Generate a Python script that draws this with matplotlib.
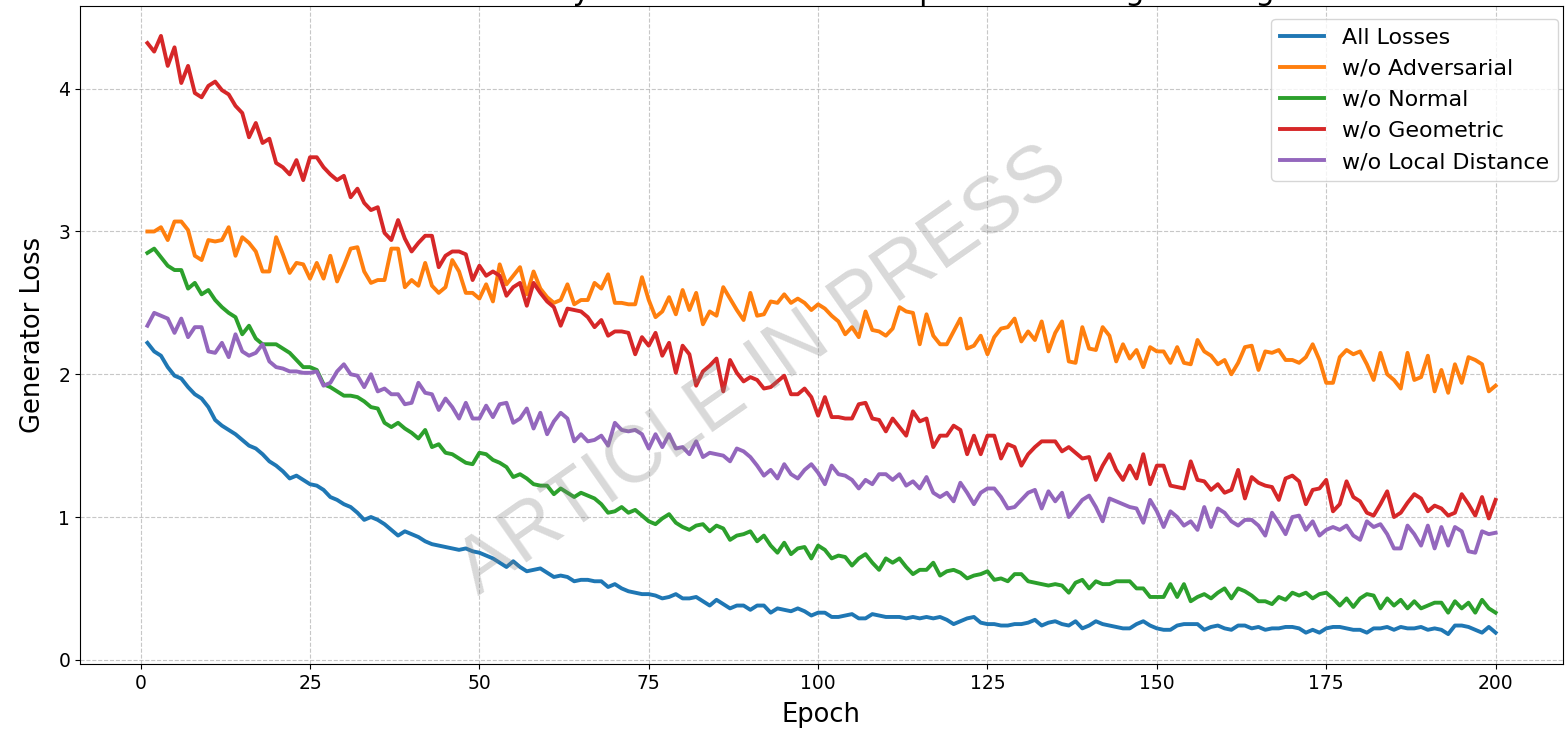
import matplotlib
matplotlib.use("Agg")
import matplotlib.pyplot as plt
import numpy as np

title_text = "Ablation Study: Generator Loss Comparison During Training"
series_labels = ["All Losses", "w/o Adversarial", "w/o Normal", "w/o Geometric", "w/o Local Distance"]
series_colors = ["#1f77b4", "#ff7f0e", "#2ca02c", "#d62728", "#9467bd"]

all_losses = [
    2.22, 2.16, 2.13, 2.05, 1.99, 1.97, 1.91, 1.86, 1.83, 1.77, 1.68, 1.64, 1.61, 1.58, 1.54, 1.50, 1.48, 1.44, 1.39, 1.36, 1.32, 1.27, 1.29, 1.26, 1.23,
    1.22, 1.19, 1.14, 1.12, 1.09, 1.07, 1.03, 0.98, 1.00, 0.98, 0.95, 0.91, 0.87, 0.90, 0.88, 0.86, 0.83, 0.81, 0.80, 0.79, 0.78, 0.77, 0.78, 0.76, 0.75,
    0.73, 0.71, 0.68, 0.65, 0.69, 0.65, 0.62, 0.63, 0.64, 0.61, 0.58, 0.59, 0.58, 0.55, 0.56, 0.56, 0.55, 0.55, 0.51, 0.53, 0.50, 0.48, 0.47, 0.46, 0.46,
    0.45, 0.43, 0.44, 0.46, 0.43, 0.43, 0.44, 0.41, 0.38, 0.42, 0.39, 0.36, 0.38, 0.38, 0.35, 0.38, 0.38, 0.33, 0.36, 0.35, 0.34, 0.36, 0.34, 0.31, 0.33,
    0.33, 0.30, 0.30, 0.31, 0.32, 0.29, 0.29, 0.32, 0.31, 0.30, 0.30, 0.30, 0.29, 0.30, 0.29, 0.30, 0.29, 0.30, 0.28, 0.25, 0.27, 0.29, 0.30, 0.26, 0.25,
    0.25, 0.24, 0.24, 0.25, 0.25, 0.26, 0.28, 0.24, 0.26, 0.27, 0.25, 0.24, 0.27, 0.22, 0.24, 0.27, 0.25, 0.24, 0.23, 0.22, 0.22, 0.25, 0.27, 0.24, 0.22,
    0.21, 0.21, 0.24, 0.25, 0.25, 0.25, 0.21, 0.23, 0.24, 0.22, 0.21, 0.24, 0.24, 0.22, 0.23, 0.21, 0.22, 0.22, 0.23, 0.23, 0.22, 0.19, 0.21, 0.19, 0.22,
    0.23, 0.23, 0.22, 0.21, 0.21, 0.19, 0.22, 0.22, 0.23, 0.21, 0.23, 0.22, 0.22, 0.23, 0.21, 0.22, 0.21, 0.18, 0.24, 0.24, 0.23, 0.21, 0.19, 0.23, 0.19,
]

wo_adversarial = [
    3.00, 3.00, 3.03, 2.94, 3.07, 3.07, 3.01, 2.83, 2.80, 2.94, 2.93, 2.94, 3.03, 2.83, 2.96, 2.92, 2.86, 2.72, 2.72, 2.96, 2.84, 2.71, 2.78, 2.77, 2.67,
    2.78, 2.67, 2.83, 2.65, 2.76, 2.88, 2.89, 2.72, 2.64, 2.66, 2.66, 2.88, 2.88, 2.61, 2.66, 2.62, 2.78, 2.62, 2.57, 2.61, 2.80, 2.72, 2.57, 2.57, 2.53,
    2.63, 2.51, 2.77, 2.63, 2.69, 2.75, 2.56, 2.72, 2.60, 2.54, 2.50, 2.52, 2.63, 2.49, 2.52, 2.52, 2.64, 2.60, 2.70, 2.50, 2.50, 2.49, 2.49, 2.68, 2.52,
    2.40, 2.44, 2.54, 2.42, 2.59, 2.45, 2.57, 2.35, 2.44, 2.41, 2.61, 2.53, 2.45, 2.38, 2.57, 2.41, 2.42, 2.51, 2.50, 2.56, 2.50, 2.53, 2.50, 2.45, 2.49,
    2.46, 2.41, 2.37, 2.28, 2.33, 2.26, 2.44, 2.31, 2.30, 2.27, 2.32, 2.47, 2.44, 2.43, 2.21, 2.42, 2.27, 2.21, 2.21, 2.30, 2.39, 2.18, 2.20, 2.27, 2.14,
    2.26, 2.32, 2.33, 2.39, 2.23, 2.30, 2.24, 2.37, 2.16, 2.29, 2.37, 2.09, 2.08, 2.33, 2.18, 2.17, 2.33, 2.27, 2.09, 2.21, 2.11, 2.17, 2.05, 2.19, 2.16,
    2.16, 2.08, 2.19, 2.08, 2.07, 2.24, 2.16, 2.13, 2.07, 2.10, 2.00, 2.08, 2.19, 2.20, 2.03, 2.16, 2.15, 2.17, 2.10, 2.10, 2.08, 2.12, 2.21, 2.10, 1.94,
    1.94, 2.12, 2.17, 2.14, 2.16, 2.07, 1.96, 2.15, 2.00, 1.96, 1.90, 2.15, 1.96, 1.98, 2.13, 1.88, 2.03, 1.87, 2.07, 1.94, 2.12, 2.10, 2.07, 1.88, 1.92,
]

wo_normal = [
    2.85, 2.88, 2.82, 2.76, 2.73, 2.73, 2.60, 2.64, 2.56, 2.59, 2.52, 2.47, 2.43, 2.40, 2.28, 2.34, 2.25, 2.21, 2.21, 2.21, 2.18, 2.15, 2.10, 2.05, 2.05,
    2.03, 1.93, 1.91, 1.88, 1.85, 1.85, 1.84, 1.81, 1.77, 1.76, 1.66, 1.63, 1.66, 1.62, 1.59, 1.55, 1.61, 1.49, 1.51, 1.45, 1.44, 1.41, 1.38, 1.37, 1.45,
    1.44, 1.40, 1.38, 1.35, 1.28, 1.30, 1.27, 1.23, 1.22, 1.22, 1.16, 1.20, 1.17, 1.14, 1.17, 1.15, 1.13, 1.09, 1.03, 1.04, 1.07, 1.03, 1.05, 1.01, 0.97,
    0.95, 0.99, 1.02, 0.96, 0.93, 0.91, 0.94, 0.95, 0.90, 0.94, 0.92, 0.84, 0.87, 0.88, 0.90, 0.83, 0.87, 0.80, 0.75, 0.82, 0.74, 0.78, 0.79, 0.71, 0.80,
    0.77, 0.71, 0.73, 0.72, 0.66, 0.71, 0.74, 0.68, 0.63, 0.71, 0.68, 0.71, 0.65, 0.60, 0.63, 0.63, 0.68, 0.59, 0.62, 0.63, 0.61, 0.57, 0.59, 0.60, 0.62,
    0.56, 0.57, 0.55, 0.60, 0.60, 0.55, 0.54, 0.53, 0.52, 0.53, 0.52, 0.47, 0.54, 0.56, 0.50, 0.55, 0.53, 0.53, 0.55, 0.55, 0.55, 0.50, 0.50, 0.44, 0.44,
    0.44, 0.53, 0.44, 0.53, 0.41, 0.44, 0.46, 0.43, 0.47, 0.50, 0.43, 0.50, 0.48, 0.45, 0.41, 0.41, 0.39, 0.44, 0.42, 0.47, 0.45, 0.47, 0.43, 0.46, 0.47,
    0.43, 0.38, 0.43, 0.37, 0.43, 0.46, 0.45, 0.36, 0.43, 0.38, 0.42, 0.36, 0.41, 0.36, 0.38, 0.40, 0.40, 0.33, 0.41, 0.36, 0.40, 0.33, 0.42, 0.36, 0.33,
]

wo_geometric = [
    4.32, 4.26, 4.37, 4.16, 4.29, 4.04, 4.16, 3.97, 3.94, 4.02, 4.05, 3.99, 3.96, 3.88, 3.83, 3.66, 3.76, 3.62, 3.65, 3.48, 3.45, 3.40, 3.50, 3.36, 3.52,
    3.52, 3.45, 3.40, 3.36, 3.39, 3.24, 3.30, 3.20, 3.15, 3.17, 2.99, 2.94, 3.08, 2.95, 2.86, 2.92, 2.97, 2.97, 2.75, 2.83, 2.86, 2.86, 2.84, 2.66, 2.76,
    2.69, 2.72, 2.69, 2.55, 2.61, 2.64, 2.48, 2.64, 2.57, 2.51, 2.47, 2.34, 2.46, 2.45, 2.44, 2.40, 2.33, 2.38, 2.27, 2.30, 2.30, 2.29, 2.14, 2.26, 2.20,
    2.29, 2.13, 2.22, 2.01, 2.20, 2.14, 1.92, 2.02, 2.06, 2.11, 1.88, 2.10, 2.01, 1.95, 1.98, 1.96, 1.90, 1.91, 1.95, 1.99, 1.86, 1.86, 1.90, 1.84, 1.71,
    1.84, 1.70, 1.70, 1.69, 1.69, 1.79, 1.80, 1.69, 1.68, 1.60, 1.69, 1.63, 1.57, 1.74, 1.67, 1.69, 1.49, 1.57, 1.57, 1.64, 1.61, 1.44, 1.57, 1.44, 1.57,
    1.57, 1.41, 1.51, 1.49, 1.36, 1.44, 1.49, 1.53, 1.53, 1.53, 1.46, 1.49, 1.45, 1.41, 1.42, 1.26, 1.36, 1.44, 1.33, 1.26, 1.36, 1.27, 1.44, 1.23, 1.36,
    1.36, 1.22, 1.21, 1.20, 1.39, 1.26, 1.25, 1.19, 1.23, 1.17, 1.19, 1.33, 1.13, 1.28, 1.24, 1.22, 1.21, 1.12, 1.27, 1.29, 1.25, 1.09, 1.19, 1.20, 1.26,
    1.04, 1.09, 1.25, 1.14, 1.11, 1.03, 1.01, 1.09, 1.18, 1.00, 1.03, 1.10, 1.16, 1.13, 1.04, 1.08, 1.06, 1.01, 1.03, 1.16, 1.09, 1.01, 1.14, 0.99, 1.12,
]

wo_local_distance = [
    2.34, 2.43, 2.41, 2.39, 2.29, 2.39, 2.26, 2.33, 2.33, 2.16, 2.15, 2.22, 2.12, 2.28, 2.16, 2.13, 2.15, 2.21, 2.09, 2.05, 2.04, 2.02, 2.02, 2.01, 2.01,
    2.02, 1.92, 1.94, 2.02, 2.07, 2.00, 1.99, 1.91, 2.00, 1.88, 1.90, 1.86, 1.86, 1.79, 1.80, 1.94, 1.87, 1.86, 1.75, 1.83, 1.77, 1.69, 1.80, 1.69, 1.69,
    1.78, 1.70, 1.79, 1.80, 1.66, 1.69, 1.76, 1.62, 1.73, 1.58, 1.67, 1.73, 1.69, 1.53, 1.58, 1.53, 1.54, 1.57, 1.50, 1.66, 1.61, 1.60, 1.61, 1.58, 1.48,
    1.58, 1.49, 1.58, 1.48, 1.49, 1.44, 1.53, 1.42, 1.45, 1.44, 1.43, 1.39, 1.48, 1.46, 1.42, 1.36, 1.29, 1.33, 1.27, 1.37, 1.30, 1.27, 1.33, 1.37, 1.31,
    1.23, 1.36, 1.30, 1.29, 1.26, 1.20, 1.26, 1.23, 1.30, 1.30, 1.26, 1.30, 1.22, 1.25, 1.20, 1.28, 1.17, 1.14, 1.17, 1.11, 1.24, 1.17, 1.09, 1.17, 1.20,
    1.20, 1.14, 1.06, 1.07, 1.12, 1.17, 1.19, 1.06, 1.18, 1.11, 1.17, 1.00, 1.06, 1.12, 1.15, 1.07, 0.97, 1.13, 1.11, 1.09, 1.07, 1.06, 0.96, 1.12, 1.04,
    0.93, 1.04, 1.00, 0.94, 0.97, 0.91, 1.07, 0.93, 1.06, 1.03, 0.97, 0.94, 0.98, 0.98, 0.94, 0.87, 1.03, 0.96, 0.88, 1.00, 1.01, 0.91, 0.97, 0.87, 0.91,
    0.93, 0.91, 0.94, 0.87, 0.84, 0.97, 0.93, 0.95, 0.88, 0.78, 0.78, 0.94, 0.88, 0.80, 0.94, 0.78, 0.93, 0.80, 0.93, 0.90, 0.76, 0.75, 0.90, 0.88, 0.89,
]

x_ticks = [0, 25, 50, 75, 100, 125, 150, 175, 200]
y_ticks = [0, 1, 2, 3, 4]

all_series = [all_losses, wo_adversarial, wo_normal, wo_geometric, wo_local_distance]

fig = plt.figure(figsize=(15.66, 7.36), dpi=100)
ax = fig.add_axes([80 / 1566, 1 - 664 / 736, 1483 / 1566, 658 / 736])

for vals, lab, col in zip(all_series, series_labels, series_colors):
    ep = np.arange(1, len(vals) + 1)
    ax.plot(ep, vals, color=col, linewidth=2.8, label=lab)

ax.set_xticks(x_ticks)
ax.set_yticks(y_ticks)
ax.tick_params(labelsize=13.5)
ax.set_xlabel("Epoch", fontsize=18.5, labelpad=7)
ax.set_ylabel("Generator Loss", fontsize=18.5, labelpad=9)
ax.grid(True, linestyle="--", alpha=0.7)
ax.legend(loc="upper right", fontsize=15.9, framealpha=0.8, borderaxespad=0,
          bbox_to_anchor=(1558 / 1566, 1 - 19 / 736), bbox_transform=fig.transFigure)

# title sits above the top edge, as in the reference (only its lower edge shows)
fig.text(821 / 1566, 1 - 0.5 / 736, title_text, ha="center", va="baseline", fontsize=22)

fig.text(0.487, 0.495, "ARTICLE IN PRESS", ha="center", va="center", rotation=35,
         fontsize=57, color="gray", alpha=0.3, family="Liberation Sans", zorder=10)

fig.savefig("out.png", dpi=100)
